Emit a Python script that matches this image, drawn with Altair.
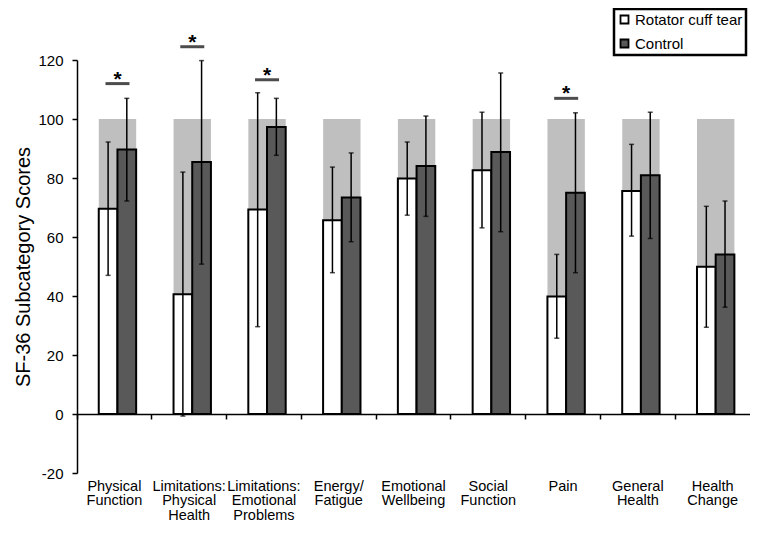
import altair as alt
import pandas as pd

categories = ["Physical Function", "Limitations: Physical Health", "Limitations: Emotional Problems",
              "Energy/ Fatigue", "Emotional Wellbeing", "Social Function", "Pain",
              "General Health", "Health Change"]
groups = ["Rotator cuff tear", "Control"]

rct_mean = [69.6, 40.6, 69.3, 65.7, 79.8, 82.6, 39.8, 75.6, 49.9]
rct_hi = [92.2, 82.0, 108.9, 83.7, 92.2, 102.3, 54.1, 91.4, 70.4]
rct_lo = [47.0, -0.7, 29.6, 47.9, 67.4, 63.1, 25.7, 60.3, 29.4]
ctrl_mean = [89.7, 85.4, 97.3, 73.4, 84.1, 88.8, 75.0, 80.9, 54.1]
ctrl_hi = [107.0, 119.8, 107.0, 88.5, 101.0, 115.6, 102.1, 102.3, 72.2]
ctrl_lo = [72.2, 50.8, 87.7, 58.4, 67.0, 61.8, 47.9, 59.5, 36.2]
max_score = [100] * 9

sig_categories = ["Physical Function", "Limitations: Physical Health",
                  "Limitations: Emotional Problems", "Pain"]
sig_height = [112.0, 124.5, 113.3, 107.0]

rows = []
for i, c in enumerate(categories):
    rows.append({"cat": c, "group": groups[0], "mean": rct_mean[i], "lo": rct_lo[i], "hi": rct_hi[i]})
    rows.append({"cat": c, "group": groups[1], "mean": ctrl_mean[i], "lo": ctrl_lo[i], "hi": ctrl_hi[i]})
df = pd.DataFrame(rows)
bg = pd.DataFrame({"cat": categories, "max": max_score})
sig = pd.DataFrame({"cat": sig_categories, "sig": sig_height})

FONT = "Liberation Sans"
x_scale = alt.Scale(domain=categories, paddingInner=0, paddingOuter=0)
xo_scale = alt.Scale(domain=groups, paddingInner=0, paddingOuter=1, align=0.582)
y_scale = alt.Scale(domain=[-20, 120], nice=False, zero=False)
y_axis = alt.Axis(values=[-20, 0, 20, 40, 60, 80, 100, 120], grid=False, tickSize=5,
                  tickWidth=1.5, tickColor="black", domainColor="black", domainWidth=1.5,
                  labelExpr="'' + datum.value",
                  labelFontSize=15, labelColor="black", labelPadding=9, labelFont=FONT,
                  title="SF-36 Subcategory Scores", titleFontSize=20, titleFontWeight="normal",
                  titleFont=FONT, titleColor="black", titlePadding=4)
Y_TITLE = "SF-36 Subcategory Scores"

tick_axis = alt.Axis(orient="bottom", offset=-59, bandPosition=0, labels=False, ticks=True,
                     tickSize=5, tickWidth=1.5, tickColor="black", domain=True,
                     domainColor="black", domainWidth=1.5, title=None, zindex=1, grid=False)
label_axis = alt.Axis(orient="bottom", domain=False, ticks=False, labelAngle=0,
                      labelExpr="split(datum.label, ' ')", labelFontSize=14.5, labelFont=FONT,
                      labelColor="black", labelPadding=6, labelLineHeight=14.5,
                      labelOverlap=False, title=None, grid=False)

GROUP_SHIFT = 3.1

background = alt.Chart(bg).mark_bar(color="#bfbfbf", width=alt.RelativeBandSize(0.5),
                                    xOffset=GROUP_SHIFT).encode(
    x=alt.X("cat:N", scale=x_scale, sort=categories, axis=tick_axis),
    y=alt.Y("max:Q", scale=y_scale, axis=y_axis, title=Y_TITLE),
    y2=alt.datum(0),
)

bars = alt.Chart(df).mark_bar(stroke="black", strokeWidth=2).encode(
    x=alt.X("cat:N", scale=x_scale, sort=categories, axis=label_axis),
    xOffset=alt.XOffset("group:N", scale=xo_scale, sort=groups),
    y=alt.Y("mean:Q", scale=y_scale, axis=y_axis, title=Y_TITLE),
    y2=alt.datum(0),
    fill=alt.Fill("group:N", sort=groups,
                  scale=alt.Scale(domain=groups, range=["white", "#595959"]),
                  legend=alt.Legend(title=None, orient="none", legendX=537, legendY=-51,
                                    symbolType="square", symbolSize=64, symbolStrokeColor="black",
                                    symbolStrokeWidth=1.8, labelFontSize=15, labelFont=FONT,
                                    labelColor="black", labelOffset=3, rowPadding=7,
                                    strokeColor="black", padding=3,
                                    fillColor="white")),
)

err = alt.Chart(df).mark_rule(color="black", strokeWidth=1.5).encode(
    x=alt.X("cat:N", scale=x_scale, sort=categories, axis=None),
    xOffset=alt.XOffset("group:N", scale=xo_scale, sort=groups),
    y=alt.Y("lo:Q", scale=y_scale, axis=y_axis, title=Y_TITLE),
    y2="hi:Q",
)

cap_hi = alt.Chart(df).mark_tick(color="black", thickness=1.5, size=5).encode(
    x=alt.X("cat:N", scale=x_scale, sort=categories, axis=None),
    xOffset=alt.XOffset("group:N", scale=xo_scale, sort=groups),
    y=alt.Y("hi:Q", scale=y_scale, axis=y_axis, title=Y_TITLE),
)
cap_lo = alt.Chart(df).mark_tick(color="black", thickness=1.5, size=5).encode(
    x=alt.X("cat:N", scale=x_scale, sort=categories, axis=None),
    xOffset=alt.XOffset("group:N", scale=xo_scale, sort=groups),
    y=alt.Y("lo:Q", scale=y_scale, axis=y_axis, title=Y_TITLE),
)

sig_bar = alt.Chart(sig).mark_tick(color="black", thickness=3, size=24, xOffset=GROUP_SHIFT).encode(
    x=alt.X("cat:N", scale=x_scale, sort=categories, axis=None),
    y=alt.Y("sig:Q", scale=y_scale, axis=y_axis, title=Y_TITLE),
)
sig_star = alt.Chart(sig).mark_text(text="*", fontSize=21, font=FONT, fontWeight="bold",
                                    color="black", xOffset=GROUP_SHIFT, dy=2,
                                    baseline="alphabetic").encode(
    x=alt.X("cat:N", scale=x_scale, sort=categories, axis=None),
    y=alt.Y("sig:Q", scale=y_scale, axis=y_axis, title=Y_TITLE),
)

chart = alt.layer(background, bars, err, cap_hi, cap_lo, sig_bar, sig_star).resolve_axis(
    x="independent"
).properties(
    width=673, height=413,
    autosize=alt.AutoSizeParams(type="none"),
    padding={"left": 69, "top": 52, "right": 0, "bottom": 52},
    background="white",
).configure_view(stroke=None).configure_legend(strokeWidth=2.5)

chart.save("out.html", embed_options={"renderer": "svg", "actions": False})
